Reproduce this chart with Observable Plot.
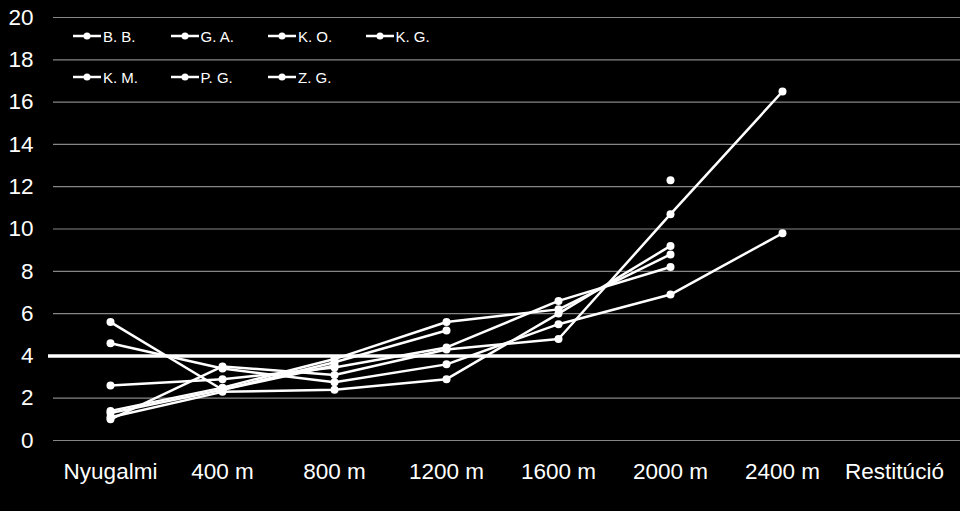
<!DOCTYPE html>
<html>
<head>
<meta charset="utf-8">
<script src="https://cdn.jsdelivr.net/npm/d3@7"></script>
<script src="https://cdn.jsdelivr.net/npm/@observablehq/plot@0.6"></script>
<style>
html, body { margin: 0; padding: 0; background: #000; }
#wrap { position: relative; width: 960px; height: 511px; background: #000; font-family: "Liberation Sans", Arial, sans-serif; }
#legend { position: absolute; left: 73px; top: 27px; width: 400px; display: flex; flex-wrap: wrap; row-gap: 23px; }
.item { width: 97.5px; height: 18px; display: flex; align-items: center; color: #fff; font-size: 15px; }
.item svg { margin-right: 2px; }
</style>
</head>
<body>
<div id="wrap"><div id="legend"></div></div>
<script>
const categories = ["Nyugalmi", "400 m", "800 m", "1200 m", "1600 m", "2000 m", "2400 m", "Restitúció"];
const names = ["B. B.", "G. A.", "K. O.", "K. G.", "K. M.", "P. G.", "Z. G."];
const bb = [5.6, 2.4, 3.7, 5.2, null, 12.3, null, null];
const ga = [4.6, 3.4, 2.75, 3.6, 5.5, 6.9, 9.8, null];
const ko = [1.0, 3.5, 3.1, 4.3, 4.8, 10.7, 16.5, null];
const kg = [2.6, 2.9, 3.45, 4.4, 6.6, 8.2, null, null];
const km = [1.4, 2.5, 3.85, 5.6, 6.2, 8.8, null, null];
const pg = [1.1, 2.3, 2.4, 2.9, 6.0, 9.2, null, null];
const zg = [1.3, 2.4, 3.55, null, null, null, null, null];
const yTicks = [0, 2, 4, 6, 8, 10, 12, 14, 16, 18, 20];
const threshold = [4];

const seriesValues = [bb, ga, ko, kg, km, pg, zg];
const table = names.flatMap((name, i) =>
  categories.map((cat, j) => ({name, cat, value: seriesValues[i][j]}))
);
const pts = table.filter(d => d.value != null);

const chart = Plot.plot({
  width: 960,
  height: 511,
  marginLeft: 53,
  marginRight: 0,
  marginTop: 17,
  marginBottom: 71,
  style: {background: "#000", color: "#fff", fontFamily: "'Liberation Sans', Arial, sans-serif"},
  x: {type: "point", domain: categories, range: [110, 894], padding: 0},
  y: {domain: [0, 20]},
  marks: [
    Plot.ruleY(yTicks, {stroke: "#868686", strokeWidth: 1.2}),
    Plot.ruleY(threshold, {stroke: "#fff", strokeWidth: 3.5, insetLeft: -5}),
    Plot.axisY({ticks: yTicks, tickSize: 0, tickPadding: 20, fontSize: 22.5, label: null, fill: "#fff"}),
    Plot.axisX({tickSize: 0, tickPadding: 23, fontSize: 22.5, label: null, fill: "#fff"}),
    Plot.line(table, {x: "cat", y: "value", z: "name", stroke: "#fff", strokeWidth: 2.5}),
    Plot.dot(pts, {x: "cat", y: "value", r: 4, fill: "#fff"})
  ]
});
const wrap = document.getElementById("wrap");
wrap.insertBefore(chart, wrap.firstChild);

const legend = document.getElementById("legend");
names.forEach(n => {
  const it = document.createElement("div");
  it.className = "item";
  it.innerHTML = `<svg width="28" height="10"><line x1="0" y1="5" x2="28" y2="5" stroke="#fff" stroke-width="2.5"/><circle cx="14" cy="5" r="3.5" fill="#fff"/></svg><span>${n}</span>`;
  legend.appendChild(it);
});
</script>
</body>
</html>
